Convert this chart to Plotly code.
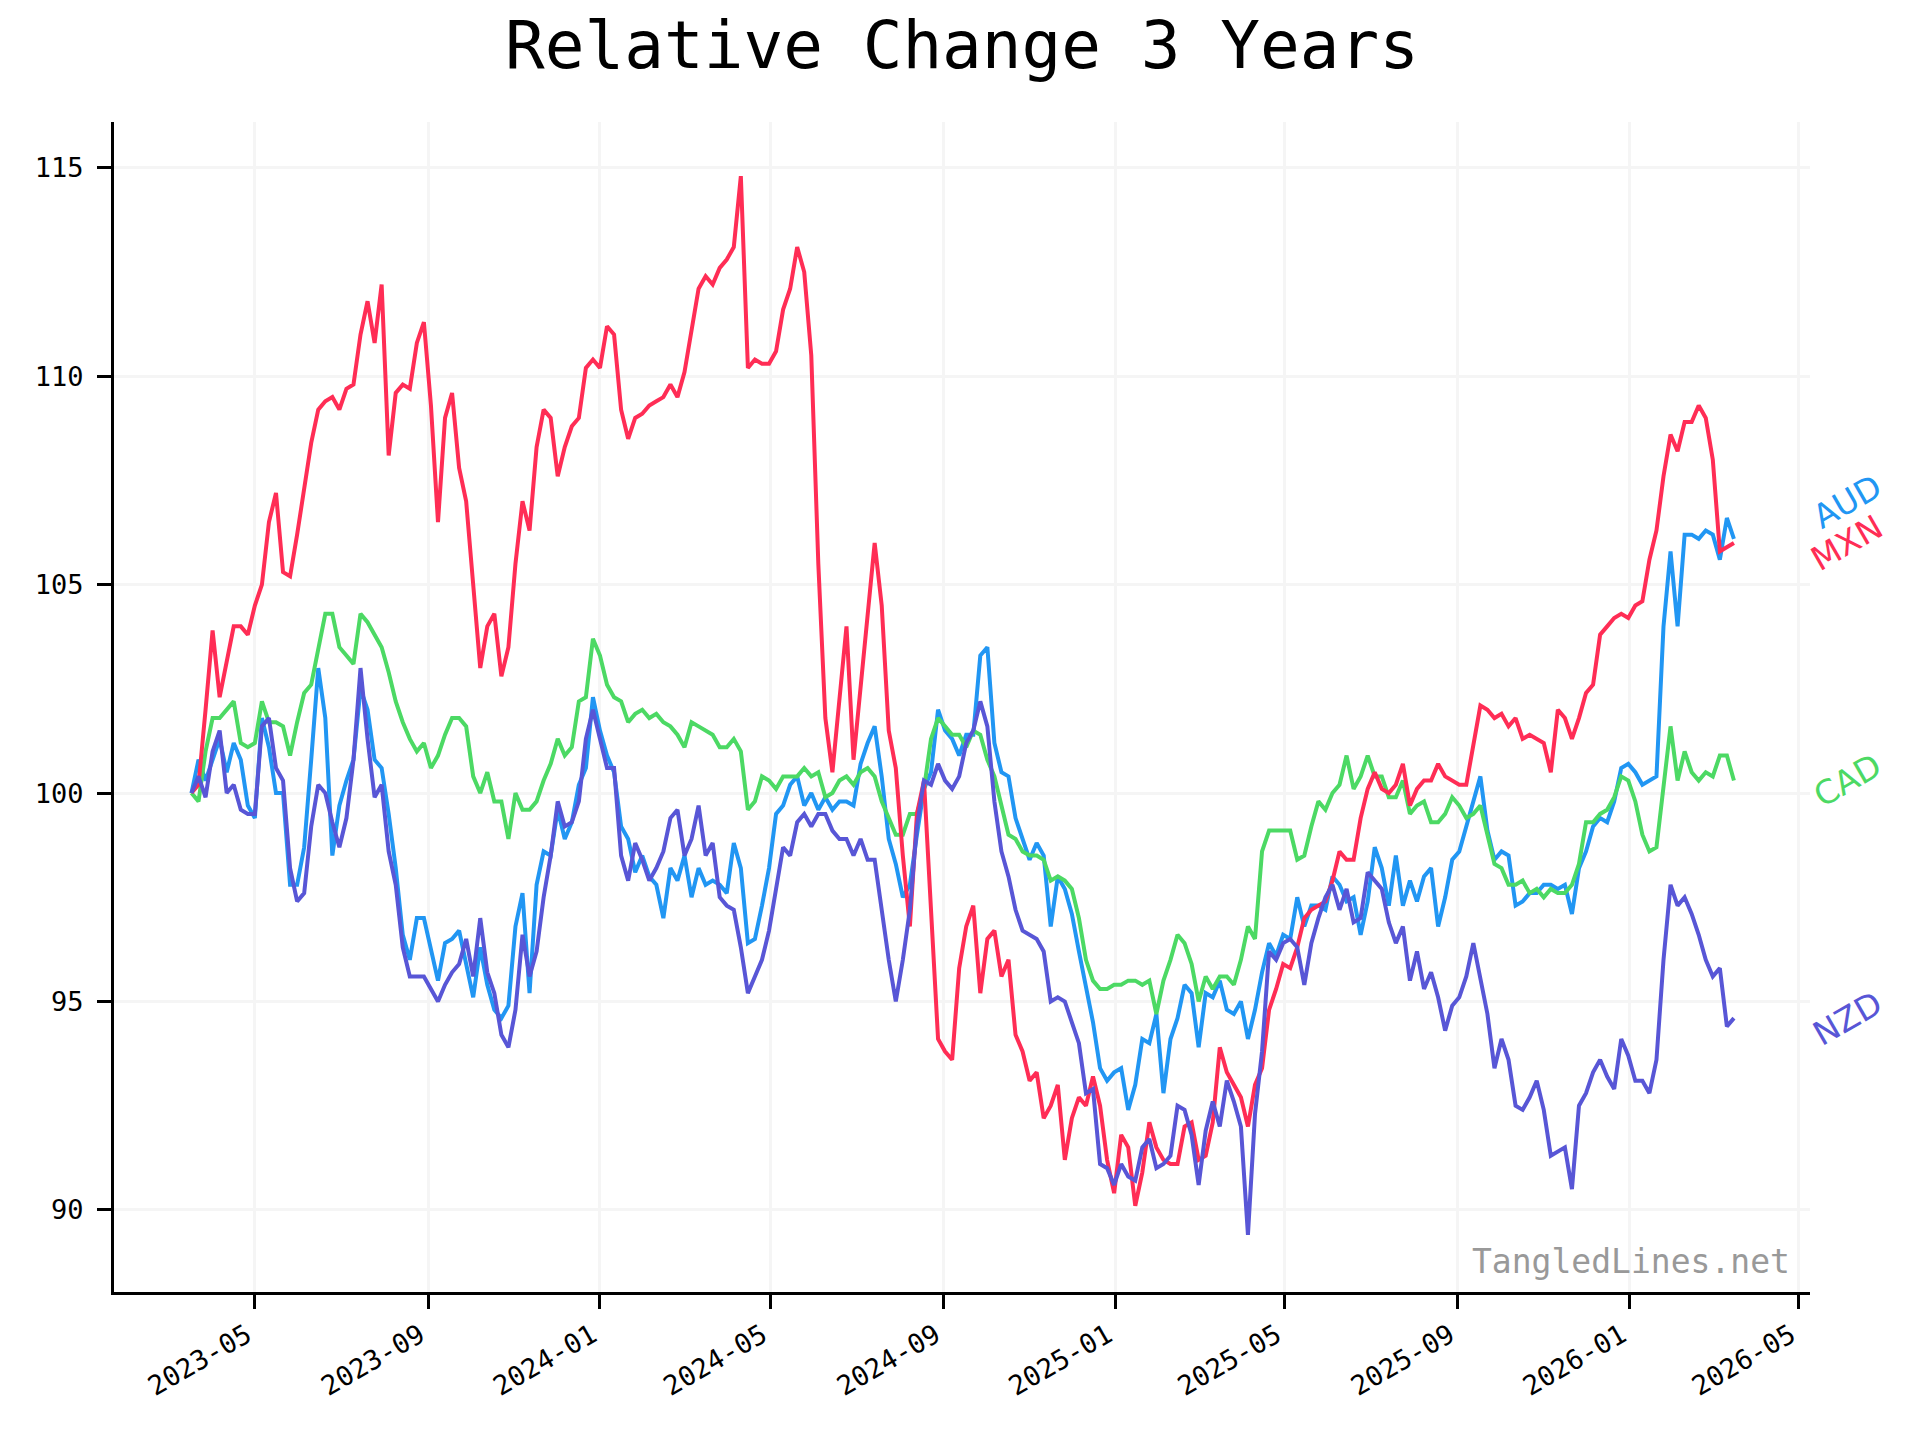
import pandas as pd
import plotly.graph_objects as go

# ---- data (relative change, start = 100), sampled every 5 days ----
start_date = "2023-03-17"
n_points = 220

mxn = [100.0, 100.2, 102.0, 103.9, 102.3, 103.2, 104.0, 104.0, 103.8, 104.5,
       105.0, 106.5, 107.2, 105.3, 105.2, 106.2, 107.3, 108.4, 109.2, 109.4,
       109.5, 109.2, 109.7, 109.8, 111.0, 111.8, 110.8, 112.2, 108.1, 109.6,
       109.8, 109.7, 110.8, 111.3, 109.3, 106.5, 109.0, 109.6, 107.8, 107.0,
       105.0, 103.0, 104.0, 104.3, 102.8, 103.5, 105.5, 107.0, 106.3, 108.3,
       109.2, 109.0, 107.6, 108.3, 108.8, 109.0, 110.2, 110.4, 110.2, 111.2,
       111.0, 109.2, 108.5, 109.0, 109.1, 109.3, 109.4, 109.5, 109.8, 109.5,
       110.1, 111.1, 112.1, 112.4, 112.2, 112.6, 112.8, 113.1, 114.8, 110.2,
       110.4, 110.3, 110.3, 110.6, 111.6, 112.1, 113.1, 112.5, 110.5, 105.5,
       101.8, 100.5, 102.2, 104.0, 100.8, 102.5, 104.1, 106.0, 104.5, 101.5,
       100.6, 98.5, 96.8, 99.5, 100.3, 97.3, 94.1, 93.8, 93.6, 95.8,
       96.8, 97.3, 95.2, 96.5, 96.7, 95.6, 96.0, 94.2, 93.8, 93.1,
       93.3, 92.2, 92.5, 93.0, 91.2, 92.2, 92.7, 92.5, 93.2, 92.5,
       91.2, 90.4, 91.8, 91.5, 90.1, 90.9, 92.1, 91.5, 91.2, 91.1,
       91.1, 92.0, 92.1, 91.2, 91.3, 92.1, 93.9, 93.3, 93.0, 92.7,
       92.0, 93.0, 93.4, 94.8, 95.3, 95.9, 95.8, 96.3, 97.0, 97.2,
       97.3, 97.4, 97.9, 98.6, 98.4, 98.4, 99.4, 100.1, 100.5, 100.1,
       100.0, 100.2, 100.7, 99.7, 100.1, 100.3, 100.3, 100.7, 100.4, 100.3,
       100.2, 100.2, 101.1, 102.1, 102.0, 101.8, 101.9, 101.6, 101.8, 101.3,
       101.4, 101.3, 101.2, 100.5, 102.0, 101.8, 101.3, 101.8, 102.4, 102.6,
       103.8, 104.0, 104.2, 104.3, 104.2, 104.5, 104.6, 105.6, 106.3, 107.6,
       108.6, 108.2, 108.9, 108.9, 109.3, 109.0, 108.0, 105.8, 105.9, 106.0]

aud = [100.0, 100.8, 100.3, 100.8, 101.3, 100.5, 101.2, 100.8, 99.7, 99.4,
       101.8, 101.1, 100.0, 100.0, 97.8, 97.8, 98.7, 100.8, 103.0, 101.8,
       98.5, 99.7, 100.3, 100.8, 102.5, 102.0, 100.8, 100.6, 99.5, 98.2,
       96.6, 96.0, 97.0, 97.0, 96.2, 95.5, 96.4, 96.5, 96.7, 95.9,
       95.1, 96.3, 95.4, 94.8, 94.6, 94.9, 96.8, 97.6, 95.2, 97.8,
       98.6, 98.5, 99.6, 98.9, 99.3, 100.2, 100.6, 102.3, 101.5, 100.9,
       100.5, 99.2, 98.9, 98.1, 98.5, 98.0, 97.8, 97.0, 98.2, 97.9,
       98.5, 97.5, 98.2, 97.8, 97.9, 97.8, 97.6, 98.8, 98.2, 96.4,
       96.5, 97.3, 98.2, 99.5, 99.7, 100.2, 100.4, 99.7, 100.0, 99.6,
       99.9, 99.6, 99.8, 99.8, 99.7, 100.7, 101.2, 101.6, 100.4, 98.9,
       98.3, 97.5, 97.8, 99.0, 100.1, 100.5, 102.0, 101.5, 101.3, 100.9,
       101.4, 101.4, 103.3, 103.5, 101.2, 100.5, 100.4, 99.4, 98.9, 98.4,
       98.8, 98.5, 96.8, 98.0, 97.7, 97.1, 96.2, 95.3, 94.5, 93.4,
       93.1, 93.3, 93.4, 92.4, 93.0, 94.1, 94.0, 94.7, 92.8, 94.1,
       94.6, 95.4, 95.2, 93.9, 95.2, 95.1, 95.5, 94.8, 94.7, 95.0,
       94.1, 94.8, 95.7, 96.4, 96.1, 96.6, 96.5, 97.5, 96.8, 97.3,
       97.3, 97.2, 98.0, 97.8, 97.4, 97.5, 96.6, 97.4, 98.7, 98.2,
       97.3, 98.5, 97.3, 97.9, 97.4, 98.0, 98.2, 96.8, 97.5, 98.4,
       98.6, 99.2, 99.8, 100.4, 99.1, 98.4, 98.6, 98.5, 97.3, 97.4,
       97.6, 97.6, 97.8, 97.8, 97.7, 97.8, 97.1, 98.2, 98.6, 99.2,
       99.4, 99.3, 99.8, 100.6, 100.7, 100.5, 100.2, 100.3, 100.4, 104.0,
       105.8, 104.0, 106.2, 106.2, 106.1, 106.3, 106.2, 105.6, 106.6, 106.1]

cad = [100.0, 99.8, 101.0, 101.8, 101.8, 102.0, 102.2, 101.2, 101.1, 101.2,
       102.2, 101.7, 101.7, 101.6, 100.9, 101.7, 102.4, 102.6, 103.5, 104.3,
       104.3, 103.5, 103.3, 103.1, 104.3, 104.1, 103.8, 103.5, 102.9, 102.2,
       101.7, 101.3, 101.0, 101.2, 100.6, 100.9, 101.4, 101.8, 101.8, 101.6,
       100.4, 100.0, 100.5, 99.8, 99.8, 98.9, 100.0, 99.6, 99.6, 99.8,
       100.3, 100.7, 101.3, 100.9, 101.1, 102.2, 102.3, 103.7, 103.3, 102.6,
       102.3, 102.2, 101.7, 101.9, 102.0, 101.8, 101.9, 101.7, 101.6, 101.4,
       101.1, 101.7, 101.6, 101.5, 101.4, 101.1, 101.1, 101.3, 101.0, 99.6,
       99.8, 100.4, 100.3, 100.1, 100.4, 100.4, 100.4, 100.6, 100.4, 100.5,
       99.9, 100.0, 100.3, 100.4, 100.2, 100.5, 100.6, 100.4, 99.8, 99.4,
       99.0, 99.0, 99.5, 99.5, 100.1, 101.3, 101.8, 101.6, 101.4, 101.4,
       101.1, 101.5, 101.4, 100.8, 100.4, 99.7, 99.0, 98.9, 98.6, 98.5,
       98.5, 98.4, 97.9, 98.0, 97.9, 97.7, 97.0, 96.0, 95.5, 95.3,
       95.3, 95.4, 95.4, 95.5, 95.5, 95.4, 95.5, 94.7, 95.5, 96.0,
       96.6, 96.4, 95.9, 95.0, 95.6, 95.3, 95.6, 95.6, 95.4, 96.0,
       96.8, 96.5, 98.6, 99.1, 99.1, 99.1, 99.1, 98.4, 98.5, 99.2,
       99.8, 99.6, 100.0, 100.2, 100.9, 100.1, 100.4, 100.9, 100.4, 100.4,
       99.9, 99.9, 100.3, 99.5, 99.7, 99.8, 99.3, 99.3, 99.5, 99.9,
       99.7, 99.4, 99.5, 99.7, 99.0, 98.3, 98.2, 97.8, 97.8, 97.9,
       97.6, 97.7, 97.5, 97.7, 97.6, 97.6, 97.8, 98.3, 99.3, 99.3,
       99.5, 99.6, 99.9, 100.4, 100.3, 99.8, 99.0, 98.6, 98.7, 100.2,
       101.6, 100.3, 101.0, 100.5, 100.3, 100.5, 100.4, 100.9, 100.9, 100.3]

nzd = [100.0, 100.4, 99.9, 101.0, 101.5, 100.0, 100.2, 99.6, 99.5, 99.5,
       101.6, 101.8, 100.6, 100.3, 98.2, 97.4, 97.6, 99.2, 100.2, 100.0,
       99.3, 98.7, 99.4, 100.8, 103.0, 101.3, 99.9, 100.2, 98.6, 97.8,
       96.3, 95.6, 95.6, 95.6, 95.3, 95.0, 95.4, 95.7, 95.9, 96.5,
       95.6, 97.0, 95.7, 95.2, 94.2, 93.9, 94.8, 96.6, 95.6, 96.2,
       97.5, 98.5, 99.8, 99.2, 99.3, 99.8, 101.3, 102.0, 101.3, 100.6,
       100.6, 98.5, 97.9, 98.8, 98.4, 97.9, 98.2, 98.6, 99.4, 99.6,
       98.5, 98.9, 99.7, 98.5, 98.8, 97.5, 97.3, 97.2, 96.3, 95.2,
       95.6, 96.0, 96.7, 97.7, 98.7, 98.5, 99.3, 99.5, 99.2, 99.5,
       99.5, 99.1, 98.9, 98.9, 98.5, 98.9, 98.4, 98.4, 97.2, 96.0,
       95.0, 96.0, 97.2, 99.2, 100.3, 100.2, 100.7, 100.3, 100.1, 100.4,
       101.2, 101.5, 102.2, 101.6, 99.8, 98.6, 98.0, 97.2, 96.7, 96.6,
       96.5, 96.2, 95.0, 95.1, 95.0, 94.5, 94.0, 92.8, 92.9, 91.1,
       91.0, 90.6, 91.1, 90.8, 90.7, 91.5, 91.7, 91.0, 91.1, 91.3,
       92.5, 92.4, 91.8, 90.6, 91.9, 92.6, 92.0, 93.1, 92.6, 92.0,
       89.4, 92.3, 93.8, 96.2, 96.0, 96.4, 96.5, 96.3, 95.4, 96.4,
       97.0, 97.5, 97.8, 97.2, 97.7, 96.9, 97.0, 98.1, 97.9, 97.7,
       96.9, 96.4, 96.8, 95.5, 96.2, 95.3, 95.7, 95.1, 94.3, 94.9,
       95.1, 95.6, 96.4, 95.5, 94.7, 93.4, 94.1, 93.6, 92.5, 92.4,
       92.7, 93.1, 92.4, 91.3, 91.4, 91.5, 90.5, 92.5, 92.8, 93.3,
       93.6, 93.2, 92.9, 94.1, 93.7, 93.1, 93.1, 92.8, 93.6, 96.0,
       97.8, 97.3, 97.5, 97.1, 96.6, 96.0, 95.6, 95.8, 94.4, 94.6]

series_names = ["AUD", "CAD", "MXN", "NZD"]
series_values = {"AUD": aud, "CAD": cad, "MXN": mxn, "NZD": nzd}
series_colors = {"AUD": "#2196F3", "CAD": "#4CD964", "MXN": "#FF2D55", "NZD": "#5856D6"}

x_tick_vals = ["2023-05-01", "2023-09-01", "2024-01-01", "2024-05-01", "2024-09-01",
               "2025-01-01", "2025-05-01", "2025-09-01", "2026-01-01", "2026-05-01"]
x_tick_text = ["2023-05", "2023-09", "2024-01", "2024-05", "2024-09",
               "2025-01", "2025-05", "2025-09", "2026-01", "2026-05"]
y_tick_vals = [90, 95, 100, 105, 110, 115]

dates = pd.date_range(start_date, periods=n_points, freq="5D")

fig = go.Figure()
for name in series_names:
    fig.add_trace(go.Scatter(
        x=dates, y=series_values[name], mode="lines", name=name,
        line=dict(color=series_colors[name], width=4),
        showlegend=False,
    ))

# end labels, decluttered so they do not overlap
ends = sorted([(series_values[n][-1], n) for n in series_names])
label_pos = {}
prev = None
for val, n in ends:
    pos = val if prev is None else max(val, prev + 1.0)
    label_pos[n] = pos
    prev = pos

for n in series_names:
    fig.add_annotation(
        x=1.022, xref="paper", y=label_pos[n], yref="y",
        text=n, showarrow=False, textangle=-30,
        xanchor="center", yanchor="middle",
        font=dict(family="DejaVu Sans", size=33, color=series_colors[n]),
    )

fig.add_annotation(
    x=0.9894, xref="paper", y=0.026, yref="paper",
    text="TangledLines.net", showarrow=False,
    xanchor="right", yanchor="middle",
    font=dict(family="DejaVu Sans Mono", size=33, color="#999999"),
)

axis_common = dict(
    showline=True, linecolor="black", linewidth=3,
    ticks="outside", ticklen=14, tickwidth=3, tickcolor="black",
    showgrid=True, gridcolor="#f5f5f5", gridwidth=3,
    zeroline=False, mirror=False,
    tickfont=dict(family="DejaVu Sans Mono", size=27, color="black"),
)

fig.update_layout(
    width=1920, height=1440,
    margin=dict(l=106, r=118, t=114, b=156),
    paper_bgcolor="white", plot_bgcolor="white",
    title=dict(
        text="Relative Change 3 Years",
        x=0.5, xanchor="center", xref="paper",
        y=1 - 37 / 1440, yanchor="middle", yref="container",
        font=dict(family="DejaVu Sans Mono", size=66, color="black"),
    ),
    xaxis=dict(
        type="date", range=["2023-01-21", "2026-05-09"],
        tickmode="array", tickvals=x_tick_vals, ticktext=x_tick_text,
        tickangle=-30, ticklabelshift=-8, **axis_common,
    ),
    yaxis=dict(
        range=[88.03, 116.1], tickmode="array", tickvals=y_tick_vals,
        ticklabelstandoff=8, **axis_common,
    ),
)

fig.write_html("out.html")
